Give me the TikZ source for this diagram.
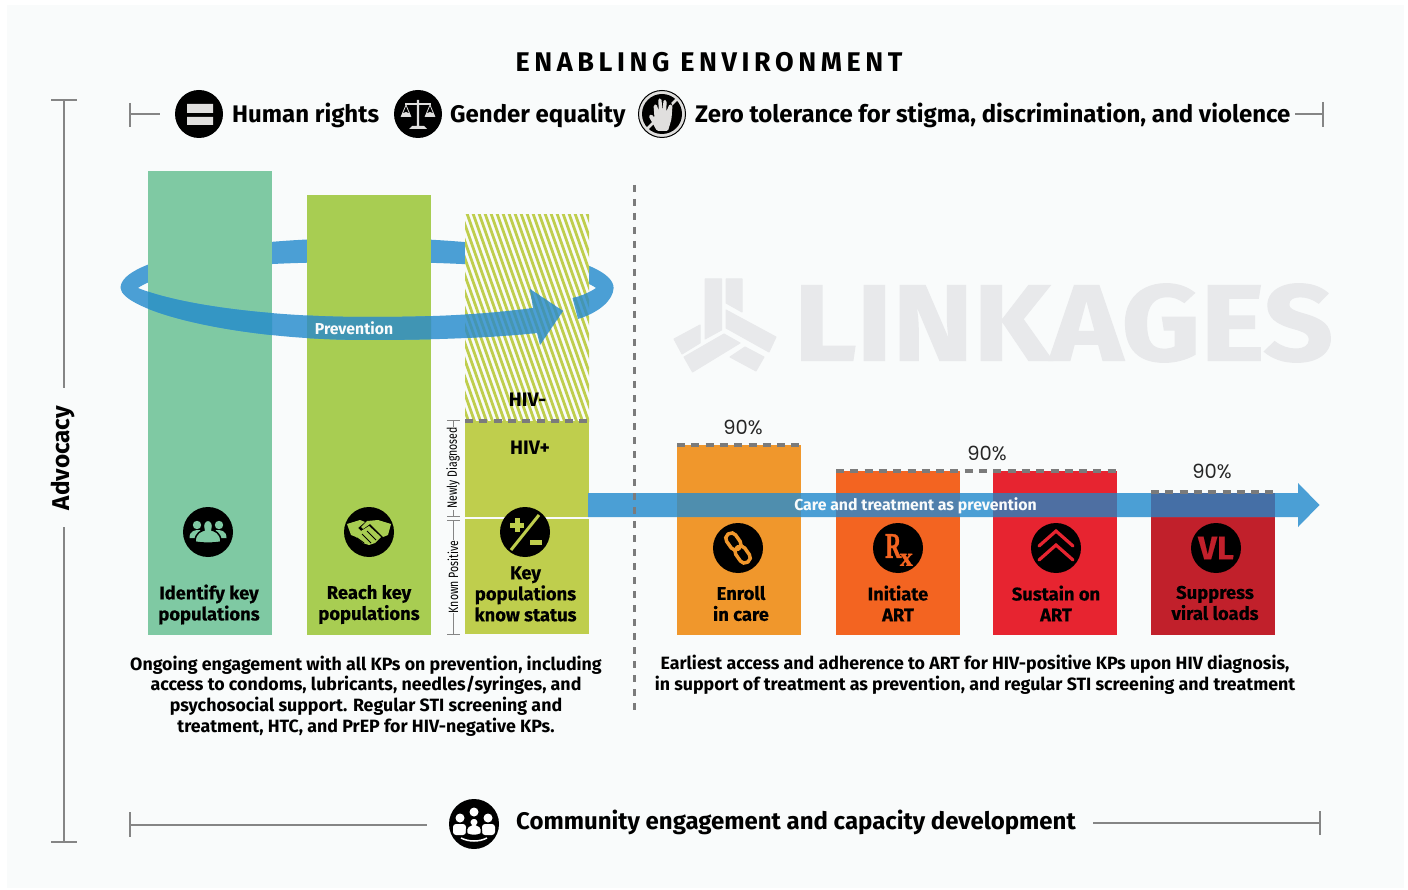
\documentclass[tikz,border=0pt]{standalone}
\usepackage{fontspec}
\setmainfont{Fira Sans}
\newfontfamily\heavyf[BoldFeatures={FakeBold=0.35}]{Fira Sans}
\newfontfamily\wmf[BoldFeatures={FakeBold=1.2}]{Fira Sans}
\newfontfamily\titlef[LetterSpace=17]{Fira Sans}
\newfontfamily\pctf{Poppins}
\newfontfamily\rxf[BoldFeatures={FakeBold=1.2}]{Liberation Serif}
\definecolor{panel}{HTML}{F9FBFB}
\definecolor{ringblue}{HTML}{4B9FD5}
\definecolor{cteal}{HTML}{7FC9A3}
\definecolor{cgreen}{HTML}{A8CD52}
\definecolor{colive}{HTML}{BFCE4D}
\definecolor{corange}{HTML}{F0972C}
\definecolor{cdeep}{HTML}{F36421}
\definecolor{cred}{HTML}{E72430}
\definecolor{cdark}{HTML}{C1202B}
\definecolor{lgray}{HTML}{7B7B7B}
\definecolor{frame}{HTML}{858585}
\definecolor{wm}{HTML}{E8E9EB}
\definecolor{glyph}{HTML}{E0DFDE}
\definecolor{ovteal}{HTML}{3496C4}
\definecolor{ovgreen}{HTML}{4095B4}
\definecolor{ovhatch}{HTML}{4696B0}
\definecolor{ovorange}{HTML}{4F8EAE}
\definecolor{ovdeep}{HTML}{5080AC}
\definecolor{ovred}{HTML}{4E6FA2}
\definecolor{ovdark}{HTML}{456FA6}
\begin{document}
\begin{tikzpicture}[x=1pt,y=-1pt,
 framel/.style={draw=frame,line width=1.4pt},
 icon/.style={circle,fill=black,minimum size=50pt,inner sep=0pt},
 lab/.style={font=\heavyf\bfseries\fontsize{18.4}{21}\selectfont,align=center,text=black},
 head/.style={font=\bfseries\fontsize{24}{28}\selectfont,anchor=west,inner sep=0pt},
 body/.style={font=\bfseries\fontsize{17.8}{20.7}\selectfont,align=center},
 dashl/.style={draw=lgray,line width=3.2pt,dash pattern=on 8pt off 6.3pt},
 pct/.style={font=\pctf\fontsize{19.5}{20}\selectfont,text=black!85},
 wmp/.style={fill=wm,draw=wm,line width=1pt,line join=round}]
\useasboundingbox (0,0) rectangle (1408,890);
\fill[white] (0,0) rectangle (1408,890);
\fill[panel] (7,5) rectangle (1404,888);
% watermark
\node[font=\wmf\bfseries\fontsize{108}{108}\selectfont,text=wm,anchor=center] (wmtext) at (1063.5,323) {\scalebox{1.131}[1]{LINKAGES}};
\path[wmp] (705,279) -- (721.5,279) -- (721.5,330) -- (705,339) -- cycle;
\path[wmp] (726,279) -- (742,279) -- (742,312) -- (726,303) -- cycle;
\path[wmp] (726,310) -- (776,337) -- (769,352) -- (726,328) -- cycle;
\path[wmp] (700,325) -- (700,343) -- (682,354) -- (674,339) -- cycle;
\path[wmp] (724,334) -- (740,343) -- (692.5,372) -- (684,357) -- cycle;
\path[wmp] (745,347) -- (764,357) -- (756,371) -- (730,357) -- cycle;
% frame lines
\draw[framel] (64,100) -- (64,388) (64,527) -- (64,842) (51,100) -- (77,100) (51,842) -- (77,842);
\node[font=\bfseries\fontsize{24.3}{26}\selectfont,rotate=90] (adv) at (63,458) {Advocacy};
\draw[framel] (130,103) -- (130,127) (130,114) -- (160,114);
\draw[framel] (1295,114) -- (1323,114) (1323,102) -- (1323,127);
\draw[framel] (130,812) -- (130,837) (130,825) -- (427,825);
\draw[framel] (1093,823) -- (1320,823) (1320,811) -- (1320,835);
\node[font=\titlef\bfseries\fontsize{27}{29}\selectfont] (title) at (709,62) {ENABLING ENVIRONMENT};
% top row
\node[icon,minimum size=48pt] (ihr) at (199,114) {};
\fill[glyph] (187,104) rectangle (213,113) (187,117) rectangle (213,125);
\node[head] (thr) at (232,115) {Human rights};
\node[icon,minimum size=48pt] (ige) at (418,114) {};
\begin{scope}[shift={(418,114)}]
\fill[glyph] (-1.2,-14) rectangle (1.2,12) (-6,12) -- (6,12) -- (9,15) -- (-9,15) -- cycle;
\fill[glyph] (-13,-11) rectangle (13,-9);
\draw[glyph,line width=.8pt] (-12,-9) -- (-17,3) (-12,-9) -- (-7,3) (12,-9) -- (17,3) (12,-9) -- (7,3);
\fill[glyph] (-17,3) arc[start angle=180,end angle=360,radius=5] -- cycle (7,3) arc[start angle=180,end angle=360,radius=5] -- cycle;
\end{scope}
\node[head] (tge) at (450,115) {Gender equality};
\node[icon,minimum size=47pt,draw=black,line width=1pt,fill=glyph] (ihand) at (662,114) {};
\fill[black] (662,114) circle (20);
\begin{scope}[shift={(662,114)}]
\draw[glyph,line width=2.6pt] (-15,15) -- (15,-15);
\draw[black,line width=6pt,line join=round] (-13,3) -- (-10,1) -- (-8,-10) (7,-9) -- (8,5) -- (5,16) -- (-5,16) -- cycle;
\fill[glyph,rounded corners=1.5pt] (-13.5,2) -- (-10.5,0) -- (-7.5,4) -- (-8.5,-9) -- (-5.5,-10) -- (-3.2,-3) -- (-3.8,-15.5) -- (-.6,-15.5) -- (.5,-3) -- (1.6,-14.5) -- (4.7,-13.5) -- (4.2,-2) -- (7.5,-10) -- (10.5,-9) -- (9.5,5) -- (6,17) -- (-5,17) -- cycle;
\end{scope}
\node[head] (tzt) at (695,115) {Zero tolerance for stigma, discrimination, and violence};
% back half of ring
\fill[ringblue] (120.5,288) .. controls (120.5,258) and (240,238) .. (367,238) .. controls (494,238) and (613.6,258) .. (613.6,288)
 -- (596,288) .. controls (574,272) and (504,262) .. (367,262) .. controls (230,262) and (160,272) .. (138,288) -- cycle;
% bars
\fill[cteal] (148,171) rectangle (272,635);
\fill[cgreen] (307,195) rectangle (431,635);
\fill[panel] (465,215) rectangle (589,421);
\begin{scope}
\clip (465,215) rectangle (589,421);
\foreach \i in {0,...,36}{\draw[colive,line width=2.8pt] ({380+6*\i},205) -- ({380+6*\i+80},431);}
\end{scope}
\fill[colive] (465,421) rectangle (589,517);
\fill[colive] (465,519) rectangle (589,634);
\fill[corange] (677,445) rectangle (801,635);
\fill[cdeep] (836,471) rectangle (960,635);
\fill[cred] (993,471) rectangle (1117,635);
\fill[cdark] (1151,493) rectangle (1275,635);
% front half
\def\frontring{(120.5,288) .. controls (122,310) and (230,340) .. (367,340) .. controls (430,340) and (490,338) .. (537,333) -- (540,345) -- (563,311) -- (530,289) -- (533,308) .. controls (480,315) and (430,317) .. (367,317) .. controls (270,317) and (180,305) .. (138,288) -- cycle
 (613.6,288) .. controls (613,300) and (600,312) .. (578,319) -- (572.5,298) .. controls (582,296) and (590,292) .. (596,288) -- cycle}
\fill[ringblue] \frontring;
\begin{scope}
\clip (148,171) rectangle (272,635);
\fill[ovteal] \frontring;
\end{scope}
\begin{scope}
\clip (307,195) rectangle (431,635);
\fill[ovgreen] \frontring;
\end{scope}
\begin{scope}
\clip \frontring;
\clip (465,215) rectangle (589,421);
\foreach \i in {0,...,36}{\draw[ovhatch,line width=2.8pt] ({380+6*\i},205) -- ({380+6*\i+80},431);}
\end{scope}
% care band
\fill[ringblue] (588,493) -- (1298,493) -- (1298,483) -- (1319.5,505) -- (1298,527) -- (1298,517) -- (588,517) -- cycle;
\fill[ovorange] (677,493) rectangle (801,517);
\fill[ovdeep] (836,493) rectangle (960,517);
\fill[ovred] (993,493) rectangle (1117,517);
\fill[ovdark] (1151,493) rectangle (1275,517);
% dashed
\draw[dashl] (465,421) -- (589,421);
\draw[dashl] (677,445) -- (801,445);
\draw[dashl] (836,471) -- (1117,471);
\draw[dashl] (1151,492) -- (1275,492);
\draw[draw=lgray,line width=3.8pt,dash pattern=on 7pt off 7pt] (634.5,185) -- (634.5,712);
\node[font=\bfseries\fontsize{15.8}{17}\selectfont,text=panel] (prev) at (354,328.5) {Prevention};
\node[font=\bfseries\fontsize{15.85}{17}\selectfont,text=panel] (care) at (915.5,505.5) {Care and treatment as prevention};
\node[pct] (p1) at (743,427.5) {90\%};
\node[pct] (p2) at (987,453.5) {90\%};
\node[pct] (p3) at (1212,471.5) {90\%};
\node[font=\bfseries\fontsize{19.5}{21}\selectfont] (hivn) at (527.5,400) {HIV-};
\node[font=\bfseries\fontsize{19.5}{21}\selectfont] (hivp) at (530,448) {HIV+};
% brackets
\draw[draw=frame,line width=1pt] (447,420) -- (460,420) (453,420) -- (453,427) (453,510) -- (453,516) (447,516) -- (460,516) (447,520) -- (460,520) (453,520) -- (453,540) (453,613) -- (453,634) (447,634) -- (460,634);
\node[font=\fontsize{13.5}{14}\selectfont,rotate=90] (nd) at (453,468) {\scalebox{.78}[1]{Newly Diagnosed}};
\node[font=\fontsize{13.5}{14}\selectfont,rotate=90] (kp) at (453,577) {\scalebox{.78}[1]{Known Positive}};
% bar icons
\node[icon] (i1) at (208,532) {};
\begin{scope}[shift={(208,532)},cteal]
\fill (-11,-7) circle (4.2) (11,-7) circle (4.2);
\fill (-18.5,6) .. controls (-18.5,-2) and (-12,-2) .. (-8,-2) -- (-5,6) -- cycle (18.5,6) .. controls (18.5,-2) and (12,-2) .. (8,-2) -- (5,6) -- cycle;
\draw[black,line width=1.5pt,fill=cteal] (-13,10) .. controls (-13,0) and (-6,-1) .. (-4,-2) .. controls (-8,-15) and (8,-15) .. (4,-2) .. controls (6,-1) and (13,0) .. (13,10) .. controls (6,11.5) and (-6,11.5) .. (-13,10) -- cycle;
\end{scope}
\node[icon] (i2) at (369,532) {};
\begin{scope}[shift={(369,532)},cgreen]
\fill (-22,-8) -- (-9,-12) -- (-4,-10) -- (-11,-4) -- (-8,-1) -- (0,-6) -- (12,5) -- (6,11) -- (0,13) -- (-6,11) -- (-13,5) -- (-18,3) -- cycle;
\fill (-2,-11) -- (9,-12) -- (22,-8) -- (19,3) -- (14,5) -- (1,-8) -- (-6,-3) -- (-8,-5) -- cycle;
\draw[black,line width=1pt] (-12,6) -- (-5,11) (-7,2) -- (2,11) (-2,-1) -- (7,8);
\end{scope}
\node[icon] (i3) at (525,532) {};
\begin{scope}[shift={(525,532)}]
\draw[colive,line width=3pt] (-14,18) -- (14,-17);
\draw[colive,line width=5pt] (-15,-7) -- (-1,-7) (-8,-14) -- (-8,0) (5,10) -- (17,10);
\end{scope}
\node[icon] (i4) at (738,548) {};
\begin{scope}[shift={(738,548)},rotate=-55]
\draw[corange,line width=3.5pt,rounded corners=5pt] (-17,-5.5) rectangle (1,5.5);
\draw[corange,line width=3.5pt,rounded corners=5pt] (-1,-5.5) rectangle (17,5.5);
\end{scope}
\node[icon] (i5) at (898,548) {};
\node[font=\rxf\bfseries\fontsize{36}{36}\selectfont,text=cdeep,inner sep=0pt] (rx) at (899,550) {\scalebox{.62}[1]{R}\kern-1.5pt\raisebox{-8pt}{\fontsize{26}{26}\selectfont x}};
\node[icon] (i6) at (1056,548) {};
\begin{scope}[shift={(1056,548)}]
\draw[cred,line width=3.2pt,line cap=round] (-17,-2) -- (0,-17) -- (17,-2) (-17,12) -- (0,-3) -- (17,12);
\end{scope}
\node[icon] (i7) at (1216,548) {};
\node[font=\heavyf\bfseries\fontsize{33}{33}\selectfont,text=cdark] (vl) at (1216,548) {VL};
% bar labels
\node[lab] (l1) at (209,604.5) {Identify key\\populations};
\node[lab] (l2) at (369,604.5) {Reach key\\populations};
\node[lab] (l3) at (525.5,594) {Key\\populations\\know status};
\node[lab] (l4) at (741,603.5) {Enroll\\in care};
\node[lab] (l5) at (898,603.5) {Initiate\\ART};
\node[lab] (l6) at (1056,603.5) {Sustain on\\ART};
\node[lab] (l7) at (1215,603) {Suppress\\viral loads};
% body text
\node[body] (b1) at (366,696) {Ongoing engagement with all KPs on prevention, including\\access to condoms, lubricants, needles/syringes, and\\psychosocial support. Regular STI screening and\\treatment, HTC, and PrEP for HIV-negative KPs.};
\node[body] (b2) at (975,675) {Earliest access and adherence to ART for HIV-positive KPs upon HIV diagnosis,\\in support of treatment as prevention, and regular STI screening and treatment};
% bottom
\node[icon] (i8) at (474,824) {};
\begin{scope}[shift={(474,824)}]
\fill[white] (-14,-6) circle (4.5) (14,-6) circle (4.5) (0,-12) circle (4.5);
\fill[white,rounded corners=3pt] (-21,0) rectangle (-8,11) (21,0) rectangle (8,11);
\draw[black,line width=1.5pt,fill=white] (0,-6) .. controls (-5,-6) and (-5,0) .. (-3,1) .. controls (-8,2) and (-8,7) .. (-7,10) .. controls (-3,12) and (3,12) .. (7,10) .. controls (8,7) and (8,2) .. (3,1) .. controls (5,0) and (5,-6) .. (0,-6) -- cycle;
\draw[white,line width=1.5pt] (-13,14) .. controls (-5,18) and (5,18) .. (13,14);
\end{scope}
\node[head] (tce) at (516,822) {Community engagement and capacity development};
\end{tikzpicture}
\end{document}
